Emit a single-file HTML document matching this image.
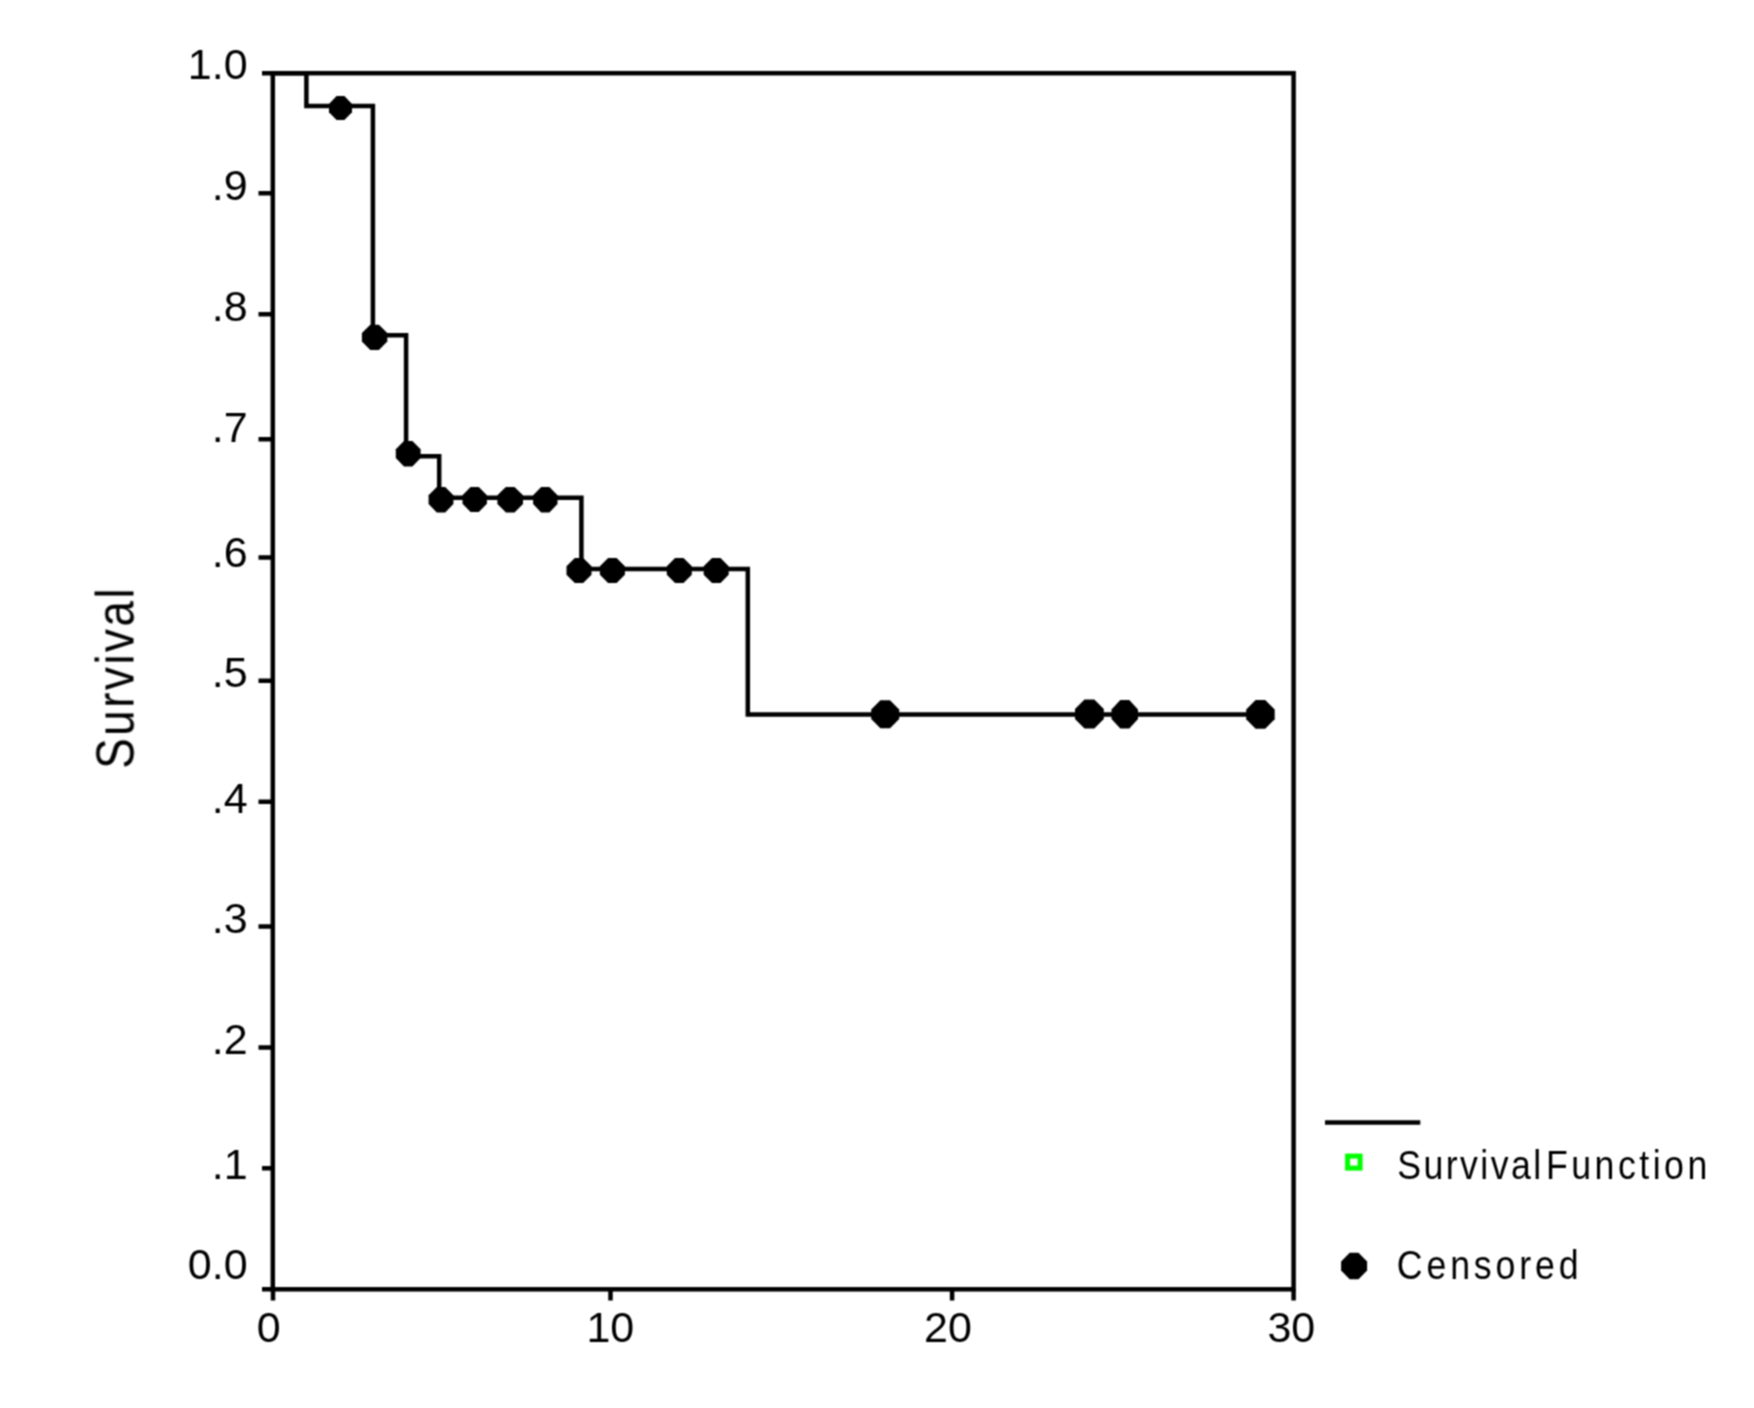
<!DOCTYPE html>
<html>
<head>
<meta charset="utf-8">
<title>Survival</title>
<style>
html,body{margin:0;padding:0;background:#fff;}
body{width:1754px;height:1408px;overflow:hidden;}
svg{display:block;filter:none;}
text{font-family:"Liberation Sans",Arial,sans-serif;fill:#000;}
.t{filter:grayscale(1);}
</style>
</head>
<body>
<svg width="1754" height="1408" viewBox="0 0 1754 1408">
<defs><filter id="soft" x="0" y="0" width="100%" height="100%"><feConvolveMatrix order="3" kernelMatrix="1 2 1 2 4 2 1 2 1" divisor="16" edgeMode="none"/></filter></defs>
<rect x="0" y="0" width="1754" height="1408" fill="#fff"/>
<g filter="url(#soft)">
<g stroke="#000" stroke-width="4.5" fill="none" stroke-linecap="butt" stroke-linejoin="miter">
<rect x="272.8" y="73.2" width="1020.8" height="1216.1"/>
<path d="M262 73.2H272.8M258.5 193.3H272.8M258.5 314.2H272.8M258.5 439.2H272.8M258.5 557.4H272.8M258.5 680.8H272.8M258.5 801.7H272.8M258.5 926.6H272.8M258.5 1047.5H272.8M262 1168.2H272.8M262 1289.3H272.8"/>
<path d="M273 1289.3V1300.5M610.5 1289.3V1300.5M952.1 1289.3V1300.5M1293.6 1289.3V1300.5"/>
<path d="M272.8 73.2H306.4V105.9H372.9V335.3H406.1V456.2H439.2V497.8H581.4V569.1H747.8V714.4H1260.4"/>
<path d="M1325 1122.6H1420.3"/>
</g>
<g fill="#000">
<polygon points="336.6,96.1 344.4,96.1 352.0,104.0 352.0,112.2 344.4,120.1 336.6,120.1 329.0,112.2 329.0,104.0"/>
<polygon points="370.3,324.8 378.9,324.8 387.3,333.0 387.3,341.6 378.9,349.9 370.3,349.9 361.9,341.6 361.9,333.0"/>
<polygon points="404.0,440.9 412.4,440.9 420.6,449.3 420.6,457.9 412.4,466.4 404.0,466.4 395.8,457.9 395.8,449.3"/>
<polygon points="436.8,486.9 445.2,486.9 453.4,495.3 453.4,503.9 445.2,512.4 436.8,512.4 428.6,503.9 428.6,495.3"/>
<polygon points="470.6,487.0 478.8,487.0 486.9,495.2 486.9,503.8 478.8,512.0 470.6,512.0 462.5,503.8 462.5,495.2"/>
<polygon points="505.9,486.9 514.5,486.9 523.0,495.3 523.0,503.9 514.5,512.4 505.9,512.4 497.4,503.9 497.4,495.3"/>
<polygon points="541.2,486.9 549.4,486.9 557.5,495.3 557.5,503.9 549.4,512.4 541.2,512.4 533.1,503.9 533.1,495.3"/>
<polygon points="574.8,558.0 583.2,558.0 591.5,566.3 591.5,574.7 583.2,583.0 574.8,583.0 566.5,574.7 566.5,566.3"/>
<polygon points="608.1,558.0 616.6,558.0 624.9,566.2 624.9,574.8 616.6,583.0 608.1,583.0 599.9,574.8 599.9,566.2"/>
<polygon points="675.1,558.0 683.5,558.0 691.8,566.2 691.8,574.8 683.5,583.0 675.1,583.0 666.8,574.8 666.8,566.2"/>
<polygon points="712.0,558.0 720.5,558.0 728.7,566.2 728.7,574.8 720.5,583.0 712.0,583.0 703.7,574.8 703.7,566.2"/>
<polygon points="880.4,700.3 890.0,700.3 899.2,709.5 899.2,719.1 890.0,728.3 880.4,728.3 871.2,719.1 871.2,709.5"/>
<polygon points="1084.5,699.6 1094.3,699.6 1103.8,709.1 1103.8,718.9 1094.3,728.4 1084.5,728.4 1075.0,718.9 1075.0,709.1"/>
<polygon points="1120.3,700.1 1129.3,700.1 1138.0,709.4 1138.0,719.0 1129.3,728.4 1120.3,728.4 1111.5,719.0 1111.5,709.4"/>
<polygon points="1255.6,699.9 1265.2,699.9 1274.7,709.4 1274.7,719.2 1265.2,728.7 1255.6,728.7 1246.2,719.2 1246.2,709.4"/>
<polygon points="1349.7,1252.7 1358.5,1252.7 1367.1,1261.5 1367.1,1270.5 1358.5,1279.3 1349.7,1279.3 1341.1,1270.5 1341.1,1261.5"/>
</g>
<rect x="1347.6" y="1156.1" width="12.5" height="12" fill="none" stroke="#00ff00" stroke-width="5"/>
<g class="t">
<g font-size="43" text-anchor="end">
<text x="247.6" y="79.3">1.0</text>
<text x="247.6" y="200.2">.9</text>
<text x="247.6" y="320.9">.8</text>
<text x="247.6" y="441.7">.7</text>
<text x="247.6" y="566.5">.6</text>
<text x="247.6" y="687.4">.5</text>
<text x="247.6" y="812.5">.4</text>
<text x="247.6" y="933.4">.3</text>
<text x="247.6" y="1054.2">.2</text>
<text x="247.6" y="1179.1">.1</text>
<text x="247.6" y="1279.0">0.0</text>
</g>
<g font-size="43" text-anchor="middle">
<text x="268.7" y="1342.0">0</text>
<text x="610.3" y="1342.0">10</text>
<text x="947.9" y="1342.0">20</text>
<text x="1291.3" y="1342.0">30</text>
</g>
<text transform="translate(133.5 768.8) rotate(-90) scale(0.85 1)" font-size="54" textLength="212.3" lengthAdjust="spacing">Survival</text>
<text transform="translate(1397.3 1178.5) scale(0.87 1)" font-size="41"><tspan x="0" textLength="165.4" lengthAdjust="spacing">Survival</tspan> <tspan x="170.8" textLength="185.5" lengthAdjust="spacing">Function</tspan></text>
<text transform="translate(1396.8 1278.5) scale(0.87 1)" font-size="41" textLength="209" lengthAdjust="spacing">Censored</text>
</g>
</g>
</svg>
</body>
</html>
